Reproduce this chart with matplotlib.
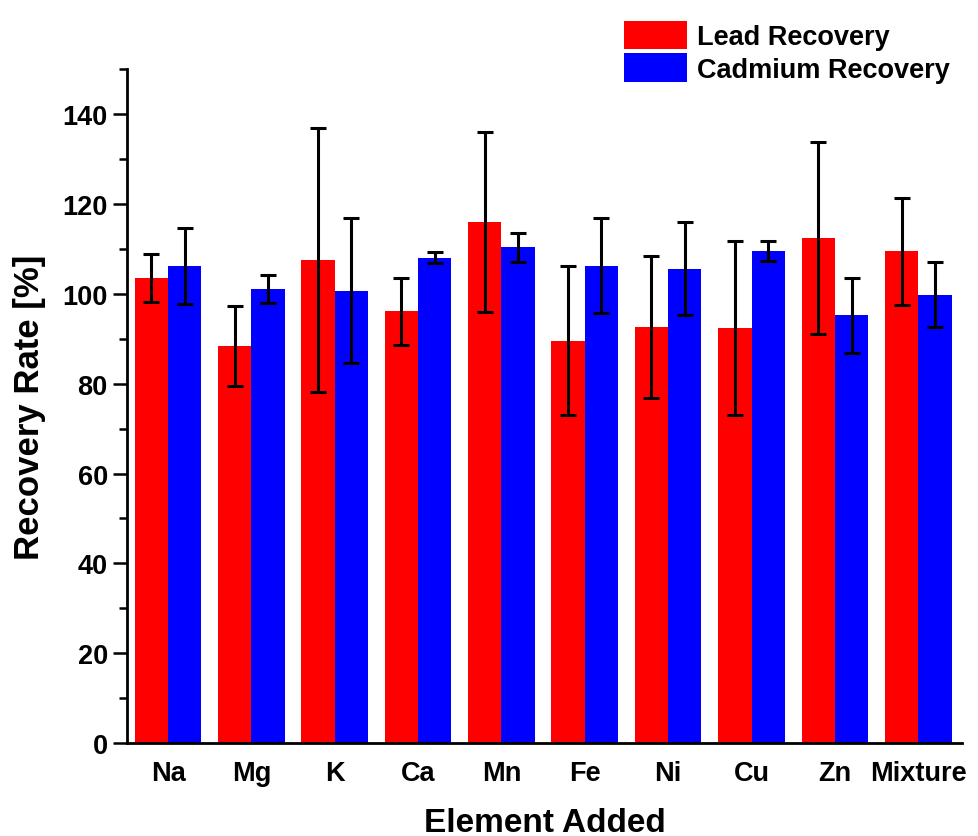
import numpy as np
import matplotlib
matplotlib.use('Agg')
from matplotlib import pyplot as plt
from matplotlib.ticker import MultipleLocator

plt.rcParams['font.family'] = ['Liberation Sans', 'DejaVu Sans']
plt.rcParams['font.weight'] = 'bold'

elements = ['Na', 'Mg', 'K', 'Ca', 'Mn', 'Fe', 'Ni', 'Cu', 'Zn', 'Mixture']
lead = [103.5, 88.3, 107.6, 96.1, 116.0, 89.6, 92.6, 92.4, 112.4, 109.5]
lead_err = [5.4, 8.9, 29.4, 7.5, 20.1, 16.6, 15.8, 19.3, 21.4, 11.9]
cadmium = [106.2, 101.1, 100.7, 108.1, 110.4, 106.3, 105.6, 109.6, 95.2, 99.8]
cadmium_err = [8.4, 3.1, 16.1, 1.2, 3.2, 10.5, 10.4, 2.2, 8.4, 7.2]

x = np.arange(len(elements))
w = 0.4

fig = plt.figure(figsize=(9.79, 8.37), dpi=100)
ax = fig.add_axes([0.13, 0.111, 0.853, 0.805])

ekw = dict(elinewidth=2.2, capthick=2.2, ecolor='black')
ax.bar(x - w/2, lead, w, color='#ff0000', label='Lead Recovery',
       yerr=lead_err, capsize=6, error_kw=ekw)
ax.bar(x + w/2, cadmium, w, color='#0000ff', label='Cadmium Recovery',
       yerr=cadmium_err, capsize=6, error_kw=ekw)

ax.set_xlim(-0.49, 9.53)
ax.set_ylim(0, 150)
ax.yaxis.set_major_locator(MultipleLocator(20))
ax.yaxis.set_minor_locator(MultipleLocator(10))
ax.set_xticks(x)
ax.set_xticklabels(elements, fontsize=19.5, fontweight='bold')
ax.tick_params(axis='x', length=0, pad=12)
ax.tick_params(axis='y', which='major', length=10, width=1.8, labelsize=19.5, pad=4)
ax.tick_params(axis='y', which='minor', length=6, width=1.8)
for lab in ax.get_yticklabels():
    lab.set_fontweight('bold')

for s in ['top', 'right']:
    ax.spines[s].set_visible(False)
for s in ['left', 'bottom']:
    ax.spines[s].set_linewidth(2)

ax.set_xlabel('Element Added', fontsize=24, fontweight='bold', labelpad=15)
ax.set_ylabel('Recovery Rate [%]', fontsize=25, fontweight='bold', labelpad=12)

fig.legend(loc='upper right', bbox_to_anchor=(0.992, 1.0), frameon=False,
           handlelength=2.35, handleheight=1.25, labelspacing=0.12,
           handletextpad=0.35, borderpad=0.3,
           prop={'weight': 'bold', 'size': 19.5})

fig.savefig('out.png', dpi=100)
